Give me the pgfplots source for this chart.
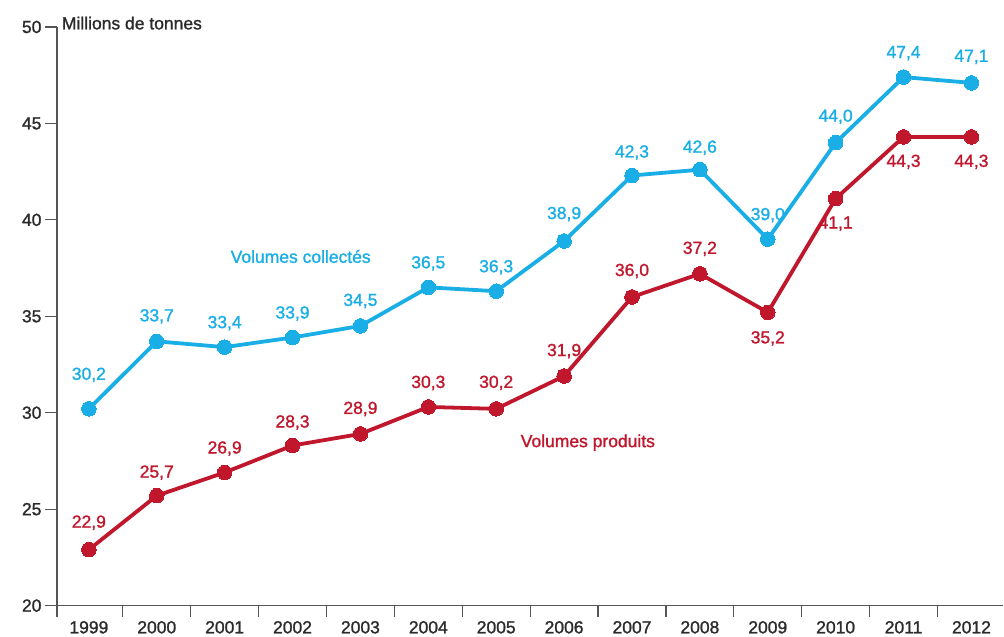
\documentclass[border=0pt]{standalone}
\usepackage{pgfplots}
\pgfplotsset{compat=1.18}
\usepackage{pgfplotstable}
\usepackage{fontspec}
\setmainfont[FakeBold=1.3]{Liberation Sans}
\definecolor{cblue}{HTML}{1AAEE6}
\definecolor{cred}{HTML}{C0172D}
\definecolor{axgray}{HTML}{555555}
\definecolor{txt}{HTML}{2B2B2B}

\pgfplotstableread{
x y off
0 30.2 34
1 33.7 25
2 33.4 24
3 33.9 24
4 34.5 25
5 36.5 24
6 36.3 24
7 38.9 27
8 42.3 23
9 42.6 22
10 39.0 24
11 44.0 26
12 47.4 24
13 47.1 26
}\collectes

\pgfplotstableread{
x y off
0 22.9 27
1 25.7 23
2 26.9 24
3 28.3 23
4 28.9 25
5 30.3 24
6 30.2 26
7 31.9 25
8 36.0 26
9 37.2 25
10 35.2 -26
11 41.1 -25
12 44.3 -25
13 44.3 -25
}\produits

\newcommand{\lblfont}{\fontsize{17.5}{20}\selectfont}

\begin{document}
\begin{tikzpicture}
\begin{axis}[
  scale only axis, width=947pt, height=579pt,
  xmin=-0.47, xmax=13.47, ymin=20, ymax=50,
  axis x line*=bottom, axis y line*=left,
  axis line style={axgray, line width=1.3pt, -},
  xtick={0,...,13},
  xticklabels={1999,2000,2001,2002,2003,2004,2005,2006,2007,2008,2009,2010,2011,2012},
  minor xtick={-0.47,0.5,1.5,...,12.5},
  ytick={20,25,...,50},
  tick align=outside, major tick length=12pt, minor tick length=11pt,
  tick style={axgray, line width=1.3pt},
  major x tick style={draw=none},
  ticklabel style={font=\lblfont, text=txt},
  /pgf/number format/assume math mode=true,
  clip=false,
]
\path (rel axis cs:-0.0602,-0.0501) rectangle (rel axis cs:1,1.0466);

\addplot[cblue, line width=3.8pt, mark=*, mark size=7.3pt,
  mark options={solid, fill=cblue, draw=cblue, line width=0pt},
  point meta=y,
  visualization depends on={\thisrow{off}\as\myoff},
  nodes near coords={\pgfmathprintnumber[fixed,fixed zerofill,precision=1,use comma]{\pgfplotspointmeta}},
  every node near coord/.append style={font=\lblfont, text=cblue, anchor=center, yshift=\myoff pt}
] table[x=x,y=y] {\collectes};

\addplot[cred, line width=3.8pt, mark=*, mark size=7.3pt,
  mark options={solid, fill=cred, draw=cred, line width=0pt},
  point meta=y,
  visualization depends on={\thisrow{off}\as\myoff},
  nodes near coords={\pgfmathprintnumber[fixed,fixed zerofill,precision=1,use comma]{\pgfplotspointmeta}},
  every node near coord/.append style={font=\lblfont, text=cred, anchor=center, yshift=\myoff pt}
] table[x=x,y=y] {\produits};

\node[text=cblue, font=\lblfont] at (axis cs:3.12,38.1) {Volumes collectés};
\node[text=cred, font=\lblfont] at (axis cs:7.35,28.45) {Volumes produits};
\node[anchor=west, text=txt, font=\lblfont, inner sep=0pt] at (axis cs:-0.40,50.2) {Millions de tonnes};
\end{axis}
\end{tikzpicture}
\end{document}
